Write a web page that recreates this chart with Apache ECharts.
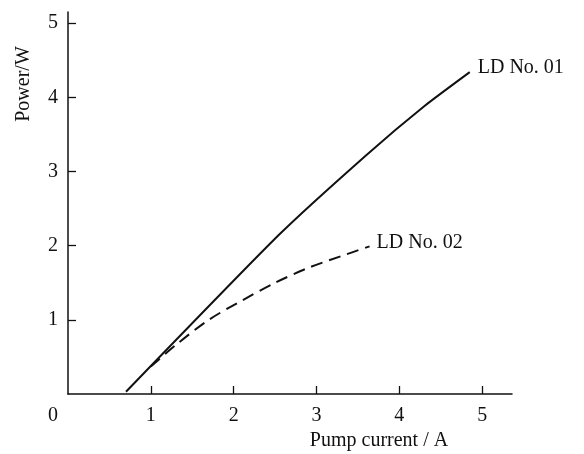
<!DOCTYPE html>
<html>
<head>
<meta charset="utf-8">
<script src="https://cdn.jsdelivr.net/npm/echarts@6/dist/echarts.min.js"></script>
<style>
  html, body { margin: 0; padding: 0; background: #fff; }
  #chart { width: 584px; height: 454px; }
</style>
</head>
<body>
<div id="chart"></div>
<script>
// values
let ld01Current = [0.70, 2.55, 3.60, 4.30, 4.85]
let ld01Power = [0.03, 2.15, 3.22, 3.88, 4.34]
let ld02Current = [1.00, 1.30, 1.70, 2.10, 2.50, 2.90, 3.30, 3.64]
let ld02Power = [0.37, 0.66, 1.00, 1.26, 1.50, 1.70, 1.86, 1.99]
let xTicks = [1, 2, 3, 4, 5]
let xLabels = [0, 1, 2, 3, 4, 5]
let yTicks = [1, 2, 3, 4, 5]

let font = 'Liberation Serif'
let ink = '#111'
let size = 20

function pairs(xs, ys) {
  return xs.map((x, i) => [x, ys[i]])
}

let chart = echarts.init(document.getElementById('chart'))
chart.setOption({
  animation: false,
  textStyle: { fontFamily: font, color: ink },
  grid: { left: 68, right: 72, top: 12, bottom: 60, outerBoundsMode: 'none' },
  xAxis: {
    type: 'value',
    min: 0,
    max: 5.36,
    name: 'Pump current / A',
    nameLocation: 'middle',
    nameGap: 36,
    nameTextStyle: { fontFamily: font, fontSize: size, color: ink, padding: [0, 0, 0, 178] },
    axisLine: { lineStyle: { color: ink, width: 1.5 } },
    axisTick: { inside: true, length: 8, lineStyle: { color: ink, width: 1.3 }, customValues: xTicks },
    axisLabel: {
      customValues: xLabels,
      margin: 12,
      fontFamily: font,
      fontSize: size,
      color: ink,
      formatter: v => (v === 0 ? '{o|0}' : String(v)),
      rich: { o: { fontFamily: font, fontSize: size, color: ink, padding: [0, 30, 0, 0] } },
    },
    splitLine: { show: false },
  },
  yAxis: {
    type: 'value',
    min: 0,
    max: 5.15,
    name: 'Power/W',
    nameLocation: 'middle',
    nameGap: 34,
    nameTextStyle: { fontFamily: font, fontSize: size, color: ink, padding: [0, 0, 0, 238] },
    axisLine: { lineStyle: { color: ink, width: 1.5 } },
    axisTick: { inside: true, length: 8, lineStyle: { color: ink, width: 1.3 }, customValues: yTicks },
    axisLabel: { customValues: yTicks, margin: 10, fontFamily: font, fontSize: size, color: ink },
    splitLine: { show: false },
  },
  series: [
    {
      name: 'LD No. 01',
      type: 'line',
      data: pairs(ld01Current, ld01Power),
      symbol: 'none',
      smooth: 0.2,
      lineStyle: { color: ink, width: 2 },
      endLabel: {
        show: true,
        formatter: p => p.seriesName,
        distance: 8,
        offset: [0, -4],
        fontFamily: font,
        fontSize: size,
        color: ink,
      },
    },
    {
      name: 'LD No. 02',
      type: 'line',
      data: pairs(ld02Current, ld02Power),
      symbol: 'none',
      smooth: 0.3,
      lineStyle: { color: ink, width: 2, type: [12, 7] },
      endLabel: {
        show: true,
        formatter: p => p.seriesName,
        distance: 7,
        offset: [0, -4],
        fontFamily: font,
        fontSize: size,
        color: ink,
      },
    },
  ],
})
</script>
</body>
</html>
